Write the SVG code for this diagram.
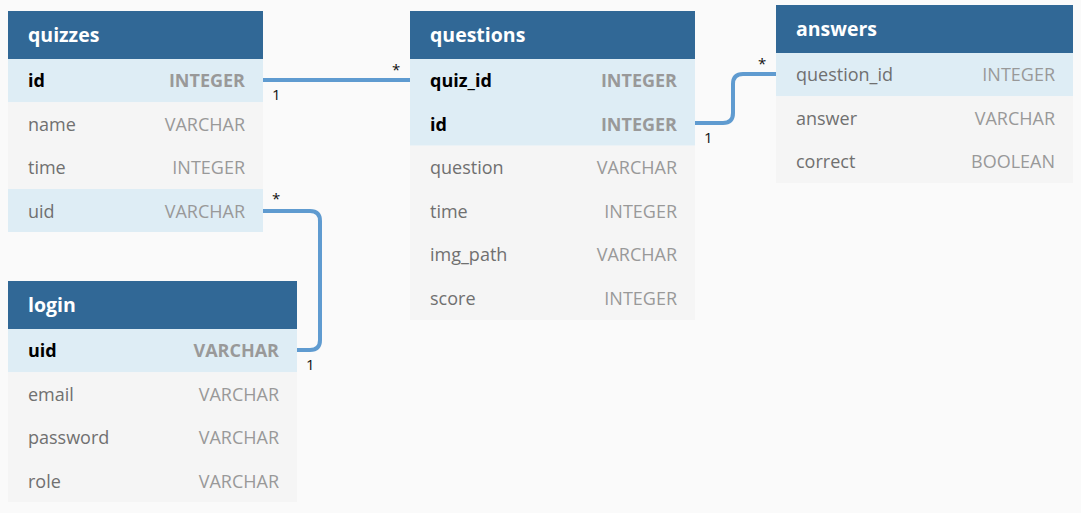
<svg xmlns="http://www.w3.org/2000/svg" width="1081" height="513" viewBox="0 0 1081 513">
<style>
.hd{fill:#316896}
.hk{fill:#deedf5}
.rw{fill:#f5f5f5}
.ht{font-family:"Open Sans",sans-serif;font-weight:bold;font-size:19.5px;fill:#ffffff}
.fn{font-family:"Open Sans",sans-serif;font-size:18px;fill:#707070}
.fk{font-family:"Open Sans",sans-serif;font-size:18px;font-weight:bold;fill:#000000}
.ty{font-family:"Open Sans",sans-serif;font-size:18px;fill:#999999;text-anchor:end}
.tk{font-family:"Open Sans",sans-serif;font-size:18px;font-weight:bold;fill:#999999;text-anchor:end}
.ln{fill:none;stroke:#5f9bd0;stroke-width:4}
.lb{font-family:"Open Sans",sans-serif;font-size:15px;fill:#111111}
</style>
<rect width="1081" height="513" fill="#fafafa"/>
<g id="connectors">
<path class="ln" d="M263,80 H410"/>
<path class="ln" d="M695,123 H723 Q733,123 733,113 V84 Q733,74 743,74 H776"/>
<path class="ln" d="M263,211 H310 Q320,211 320,221 V340 Q320,350 310,350 H297"/>
<text class="lb" x="272" y="100">1</text>
<text class="lb" x="392" y="75">*</text>
<text class="lb" x="704" y="143">1</text>
<text class="lb" x="758" y="69">*</text>
<text class="lb" x="272" y="204">*</text>
<text class="lb" x="306" y="370">1</text>
</g>
<g id="quizzes">
<rect class="hd" x="8" y="11" width="255" height="48"/>
<text class="ht" x="28" y="42">quizzes</text>
<rect class="hk" x="8" y="59" width="255" height="43.3"/>
<rect class="rw" x="8" y="102.3" width="255" height="86.7"/>
<rect class="hk" x="8" y="189" width="255" height="43"/>
<text class="fk" x="28" y="87">id</text><text class="tk" x="245" y="87">INTEGER</text>
<text class="fn" x="28" y="131">name</text><text class="ty" x="245" y="131">VARCHAR</text>
<text class="fn" x="28" y="174">time</text><text class="ty" x="245" y="174">INTEGER</text>
<text class="fn" x="28" y="218">uid</text><text class="ty" x="245" y="218">VARCHAR</text>
</g>
<g id="login">
<rect class="hd" x="8" y="281" width="289" height="48"/>
<text class="ht" x="28" y="312">login</text>
<rect class="hk" x="8" y="329" width="289" height="43.3"/>
<rect class="rw" x="8" y="372.3" width="289" height="129.7"/>
<text class="fk" x="28" y="357">uid</text><text class="tk" x="279" y="357">VARCHAR</text>
<text class="fn" x="28" y="401">email</text><text class="ty" x="279" y="401">VARCHAR</text>
<text class="fn" x="28" y="444">password</text><text class="ty" x="279" y="444">VARCHAR</text>
<text class="fn" x="28" y="488">role</text><text class="ty" x="279" y="488">VARCHAR</text>
</g>
<g id="questions">
<rect class="hd" x="410" y="11" width="285" height="48"/>
<text class="ht" x="430" y="42">questions</text>
<rect class="hk" x="410" y="59" width="285" height="86.7"/>
<rect class="rw" x="410" y="145.7" width="285" height="174.3"/>
<text class="fk" x="430" y="87">quiz_id</text><text class="tk" x="677" y="87">INTEGER</text>
<text class="fk" x="430" y="131">id</text><text class="tk" x="677" y="131">INTEGER</text>
<text class="fn" x="430" y="174">question</text><text class="ty" x="677" y="174">VARCHAR</text>
<text class="fn" x="430" y="218">time</text><text class="ty" x="677" y="218">INTEGER</text>
<text class="fn" x="430" y="261">img_path</text><text class="ty" x="677" y="261">VARCHAR</text>
<text class="fn" x="430" y="305">score</text><text class="ty" x="677" y="305">INTEGER</text>
</g>
<g id="answers">
<rect class="hd" x="776" y="5" width="297" height="48"/>
<text class="ht" x="796" y="36">answers</text>
<rect class="hk" x="776" y="53" width="297" height="43.3"/>
<rect class="rw" x="776" y="96.3" width="297" height="86.7"/>
<text class="fn" x="796" y="81">question_id</text><text class="ty" x="1055" y="81">INTEGER</text>
<text class="fn" x="796" y="125">answer</text><text class="ty" x="1055" y="125">VARCHAR</text>
<text class="fn" x="796" y="168">correct</text><text class="ty" x="1055" y="168">BOOLEAN</text>
</g>
</svg>
